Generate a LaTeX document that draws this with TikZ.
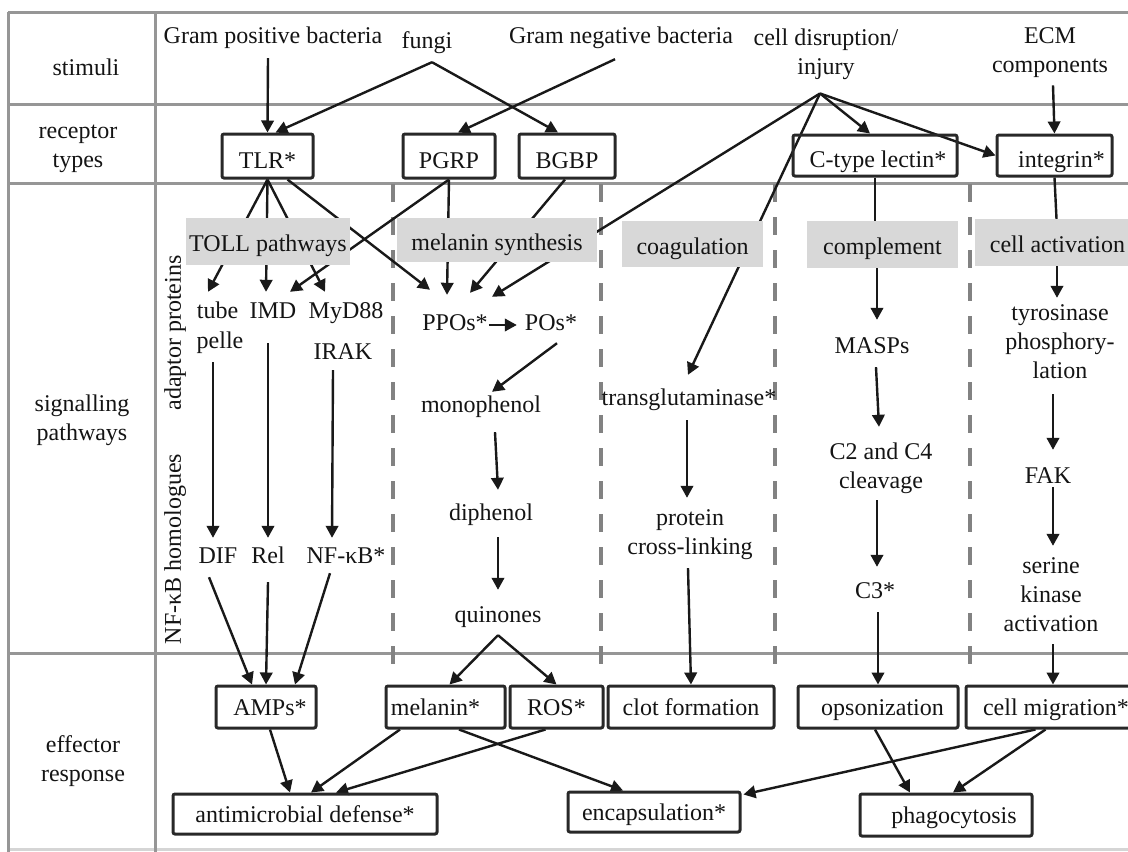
\documentclass[tikz,border=0pt]{standalone}
\usepackage{fontspec}
\setmainfont{Liberation Serif}
\usetikzlibrary{arrows.meta,calc}
\definecolor{gridc}{RGB}{150,150,150}
\definecolor{dashc}{RGB}{130,130,130}
\definecolor{boxc}{RGB}{40,40,40}
\definecolor{arrc}{RGB}{25,25,25}
\definecolor{grayfill}{RGB}{216,216,216}
\definecolor{txt}{RGB}{20,20,20}
\pgfdeclarelayer{bg}\pgfdeclarelayer{mid}\pgfsetlayers{bg,mid,main}
\newcommand\myhs{\rule{0pt}{17pt}}
\newcommand\myds{\rule[-5.5pt]{0pt}{5.5pt}}
\begin{document}
\begin{tikzpicture}[x=1pt,y=-1pt,
  every node/.style={font=\fontsize{24}{29}\selectfont, text=txt, inner sep=0pt},
  t/.style={text height=17pt, text depth=5.5pt},
  ml/.style={align=center},
  rbox/.style={draw=boxc, line width=3pt, rounded corners=2pt, text height=24pt, text depth=0pt},
  ebox/.style={draw=boxc, line width=3pt, rounded corners=2pt, text height=20pt, text depth=4pt},
  gbox/.style={fill=grayfill, text height=20pt, text depth=0pt},
  gridline/.style={draw=gridc, line width=3pt},
  dashline/.style={draw=dashc, line width=3.5pt, dash pattern=on 18pt off 15pt},
  arr/.style={draw=arrc, line width=2.4pt, -{Triangle[length=12pt,width=12.5pt]}},
  ln/.style={draw=arrc, line width=2.4pt}]
\useasboundingbox (0,0) rectangle (1128,852);

% ---------- grid ----------
\begin{pgfonlayer}{bg}
\fill[white] (0,0) rectangle (1128,852);
\draw[gridline] (8,12) -- (1128,12);
\draw[gridline] (8,104) -- (1128,104);
\draw[gridline] (8,183) -- (1128,183);
\draw[gridline] (8,653) -- (1128,653);
\draw[draw=gridc!40, line width=3pt] (8,849) -- (1128,849);
\draw[gridline] (8,12) -- (8,852);
\draw[gridline] (155,12) -- (155,852);
\foreach \x in {393,601,775,970}
  \draw[dashline] (\x,184) -- (\x,664);
\end{pgfonlayer}

% ---------- row labels ----------
\node[t] (lstim) at (86,70) {stimuli};
\node[ml] (lrec) at (78,147) {\myhs receptor\\types\myds};
\node[ml] (lsig) at (82,420) {\myhs signalling\\pathways\myds};
\node[ml] (leff) at (83,761) {\myhs effector\\response\myds};
\node[t,rotate=90] (ladapt) at (175,333) {adaptor proteins};
\node[t,rotate=90] (lnfkb) at (175,549) {NF-κB homologues};

% ---------- stimuli ----------
\node[t] (gpos) at (273,38) {Gram positive bacteria};
\node[t] (fungi) at (427,43) {fungi};
\node[t] (gneg) at (621,38) {Gram negative bacteria};
\node[ml] (injury) at (826,54) {\myhs cell disruption/\\injury\myds};
\node[ml] (ecm) at (1050,52) {\myhs ECM\\components\myds};

% ---------- receptors ----------
\node[rbox, minimum width=91pt, minimum height=44pt] (TLR) at (267.5,156) {TLR*};
\node[rbox, minimum width=92pt, minimum height=44pt] (PGRP) at (449,156) {PGRP};
\node[rbox, minimum width=96pt, minimum height=44pt] (BGBP) at (567,156) {BGBP};
\node[rbox, minimum width=164pt, minimum height=41pt] (ctype) at (875,155.5) {\hspace*{6pt}C-type lectin*};
\node[rbox, minimum width=115pt, minimum height=41pt] (integrin) at (1054.5,155.5) {\hspace*{14pt}integrin*};

% ---------- pathway boxes ----------
\node[gbox, minimum width=164pt, minimum height=47pt] (toll) at (268,241.5) {TOLL pathways};
\node[gbox, minimum width=200pt, minimum height=44pt] (melsyn) at (497,240) {melanin synthesis};
\node[gbox, minimum width=141pt, minimum height=46pt] (coag) at (692.5,244) {coagulation};
\node[gbox, minimum width=151pt, minimum height=47pt] (compl) at (882.5,244.5) {complement};
\node[gbox, minimum width=170pt, minimum height=47pt] (cellact) at (1060,242.5) {\hspace*{-5pt}cell activation};

% ---------- signalling texts ----------
\node[t] (tube) at (217.5,313) {tube};
\node[t] (pelle) at (220,343) {pelle};
\node[t] (IMD) at (273,313) {IMD};
\node[t] (MyD) at (346,313) {MyD88};
\node[t] (IRAK) at (343,354) {IRAK};
\node[t] (DIF) at (218,558) {DIF};
\node[t] (Rel) at (268,558) {Rel};
\node[t] (NFkB) at (346,558) {NF-κB*};

\node[t] (PPOs) at (455,325) {PPOs*};
\node[t] (POs) at (551,325) {POs*};
\node[t] (mono) at (481,407) {monophenol};
\node[t] (di) at (491,515) {diphenol};
\node[t] (quin) at (498,617) {quinones};

\node[t] (transglut) at (689,400) {transglutaminase*};
\node[ml] (protein) at (690,534) {\myhs protein\\cross-linking\myds};

\node[t] (MASPs) at (872,348) {MASPs};
\node[ml] (cleav) at (881,468.5) {\myhs C2 and C4\\cleavage\myds};
\node[t] (C3) at (875,593) {C3*};

\node[ml] (tyro) at (1060,343.5) {\myhs tyrosinase\\phosphory-\\lation\myds};
\node[t] (FAK) at (1048,478) {FAK};
\node[ml] (serine) at (1051,597) {\myhs serine\\kinase\\activation\myds};

% ---------- effector boxes ----------
\node[ebox, minimum width=100pt, minimum height=42pt] (AMPs) at (266,707) {\hspace*{8pt}AMPs*};
\node[ebox, minimum width=119pt, minimum height=42pt] (melanin) at (445.5,707) {melanin*\hspace*{20pt}};
\node[ebox, minimum width=93pt, minimum height=42pt] (ROS) at (556.5,707) {ROS*};
\node[ebox, minimum width=166pt, minimum height=42pt] (clot) at (691,707) {clot formation};
\node[ebox, minimum width=160pt, minimum height=42pt] (opson) at (878,707) {\hspace*{9pt}opsonization};
\node[ebox, minimum width=170pt, minimum height=42pt] (cellmig) at (1051,707) {\hspace*{10pt}cell migration*};
\node[ebox, minimum width=264pt, minimum height=40pt] (amd) at (305,814) {antimicrobial defense*};
\node[ebox, minimum width=172pt, minimum height=40pt] (encaps) at (654,812) {encapsulation*};
\node[ebox, minimum width=172pt, minimum height=42pt] (phago) at (946,815) {\hspace*{16pt}phagocytosis};

% ---------- connectors ----------
\begin{pgfonlayer}{mid}
% stimuli -> receptors
\draw[arr] ($(gpos.south)+(-5,8.75)$) -- (TLR.north);
\draw[arr] ($(fungi.south)+(5,7.75)$) -- ($(TLR.north)+(8,0)$);
\draw[arr] ($(fungi.south)+(5,7.75)$) -- ($(BGBP.north)+(-9,0)$);
\draw[arr] ($(gneg.south)+(-6,9.75)$) -- ($(PGRP.north)+(9,0)$);
\draw[arr] ($(injury.south)+(-6,13.5)$) -- ($(ctype.north)+(-5,0)$);
\draw[arr] ($(injury.south)+(-6,13.5)$) -- (integrin.west);
\draw[arr] ($(injury.south)+(-6,13.5)$) -- ($(PPOs.north)+(37,-16.75)$);
\draw[arr] ($(injury.south)+(-6,13.5)$) -- ($(transglut.north)+(-1,-13.75)$);
\draw[arr] ($(ecm.south)+(3,7.5)$) -- (integrin.north);
% Toll / melanin
\draw[arr] (TLR.south) -- ($(tube.north)+(-9.5,-9.75)$);
\draw[arr] (TLR.south) -- ($(IMD.north)+(-7,-9.75)$);
\draw[arr] (TLR.south) -- ($(MyD.north)+(-21,-9.75)$);
\draw[arr] ($(TLR.south)+(20,0)$) -- ($(PPOs.north)+(-25,-23.75)$);
\draw[arr] (PGRP.south) -- ($(IMD.north)+(17,-9.75)$);
\draw[arr] (PGRP.south) -- ($(PPOs.north)+(-8,-18.75)$);
\draw[arr] ($(BGBP.south)+(-2,0)$) -- ($(PPOs.north)+(15,-20.75)$);
\draw[arr] ($(PPOs.east)+(1,0)$) -- ($(POs.west)+(-8,0)$);
\draw[arr] ($(POs.south)+(6,6.75)$) -- ($(mono.north)+(11,-3.75)$);
\draw[arr] ($(mono.south)+(14,13.75)$) -- ($(di.north)+(7,-13.75)$);
\draw[arr] ($(di.south)+(7,10.75)$) -- ($(quin.north)+(0,-15.75)$);
\draw[arr] ($(quin.south)+(0,6.75)$) -- ($(melanin.north)+(4,0)$);
\draw[arr] ($(quin.south)+(0,6.75)$) -- (ROS.north);
\draw[arr] ($(pelle.south)+(-7,7.75)$) -- ($(DIF.north)+(-5,-8.75)$);
\draw[arr] ($(IMD.south)+(-5,18.75)$) -- ($(Rel.north)+(0,-8.75)$);
\draw[arr] ($(IRAK.south)+(-10,4.75)$) -- ($(NFkB.north)+(-14,-8.75)$);
\draw[arr] ($(DIF.south)+(-9,7.75)$) -- ($(AMPs.north)+(-14,0)$);
\draw[arr] ($(Rel.south)+(0,12.75)$) -- (AMPs.north);
\draw[arr] ($(NFkB.south)+(-16,3.75)$) -- ($(AMPs.north)+(29,0)$);
% coagulation
\draw[arr] ($(transglut.south)+(-2,8.75)$) -- ($(protein.north)+(-3,-10.25)$);
\draw[arr] ($(protein.south)+(-2,8.25)$) -- (clot.north);
% complement
\draw[ln] (ctype.south) -- (ctype.south |- compl.north);
\draw[arr] ($(compl.south -| ctype.south)+(2,0)$) -- ($(MASPs.north)+(5,-16.75)$);
\draw[arr] ($(MASPs.south)+(4,7.75)$) -- ($(cleav.north)+(-2,-15.75)$);
\draw[arr] ($(cleav.south)+(-4,5.75)$) -- ($(C3.north)+(2,-14.75)$);
\draw[arr] ($(C3.south)+(3,7.75)$) -- (opson.north);
% cell activation
\draw[ln] (integrin.south) -- ($(integrin.south |- cellact.north)+(2,0)$);
\draw[arr] ($(cellact.south -| integrin.south)+(2.5,0)$) -- ($(tyro.north)+(-3,-5.25)$);
\draw[arr] ($(tyro.south)+(-7,10.25)$) -- ($(FAK.north)+(5,-16.75)$);
\draw[arr] ($(FAK.south)+(5,-2.25)$) -- ($(serine.north)+(2,-10.75)$);
\draw[arr] ($(serine.south)+(2,6.75)$) -- ($(cellmig.north)+(2,0)$);
% effector
\draw[arr] ($(AMPs.south)+(4,0)$) -- ($(amd.north)+(-15,0)$);
\draw[arr] ($(melanin.south)+(-45.5,0)$) -- ($(amd.north)+(6,0)$);
\draw[arr] ($(ROS.south)+(-11,0)$) -- ($(amd.north)+(31,0)$);
\draw[arr] ($(melanin.south)+(13.5,0)$) -- ($(encaps.north)+(-31,0)$);
\draw[arr] ($(cellmig.south)+(-15.5,0)$) -- ($(encaps.north east)+(2,4)$);
\draw[arr] ($(cellmig.south)+(-5.5,0)$) -- ($(phago.north)+(7,0)$);
\draw[arr] ($(opson.south)+(-3,0)$) -- ($(phago.north)+(-36,0)$);
\end{pgfonlayer}
\end{tikzpicture}
\end{document}
